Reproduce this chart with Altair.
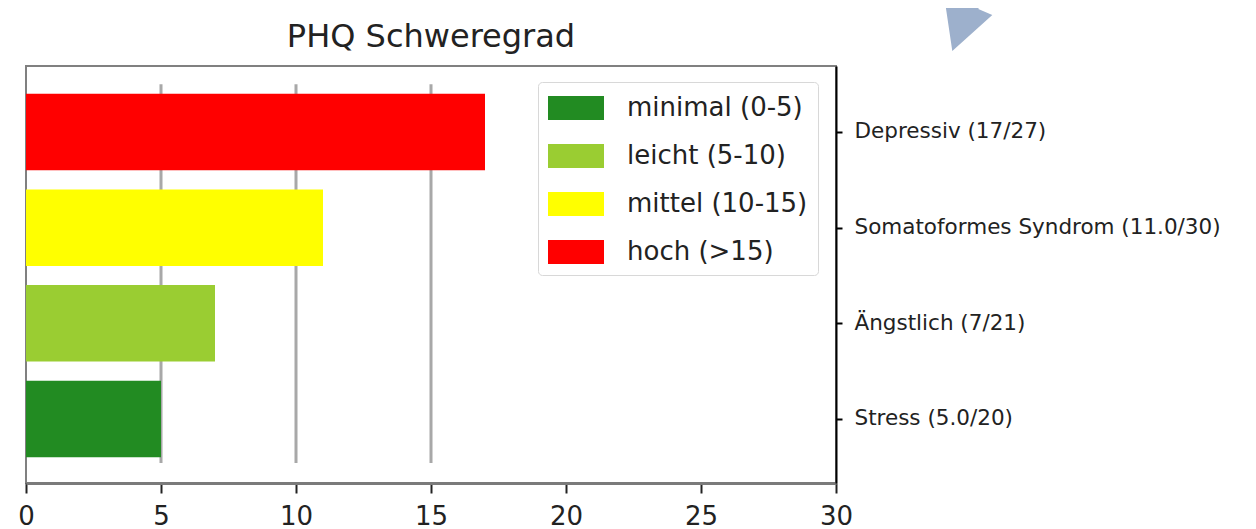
import json
import altair as alt
import pandas as pd

# ---- data ----
categories = ["Stress (5.0/20)", "Ängstlich (7/21)", "Somatoformes Syndrom (11.0/30)", "Depressiv (17/27)"]
positions = [0, 1, 2, 3]
scores = [5, 7, 11, 17]
bar_levels = ["minimal (0-5)", "leicht (5-10)", "mittel (10-15)", "hoch (>15)"]
levels = ["minimal (0-5)", "leicht (5-10)", "mittel (10-15)", "hoch (>15)"]
level_colors = ["#228b22", "#9acd32", "#ffff00", "#ff0000"]
thresholds = [5, 10, 15]
threshold_low = [-0.46, -0.46, -0.46]
threshold_high = [3.5, 3.5, 3.5]
x_ticks = [0, 5, 10, 15, 20, 25, 30]
arrow_x = [34.9]
arrow_y = [4.17]

FONT = "DejaVu Sans"

bars = pd.DataFrame({"pos": positions, "score": scores, "level": bar_levels, "cat": categories})
rules = pd.DataFrame({"x": thresholds, "y0": threshold_low, "y1": threshold_high})
arrow = pd.DataFrame({"x": arrow_x, "y": arrow_y})

xscale = alt.Scale(domain=[0, 30], nice=False, zero=False)
yscale = alt.Scale(domain=[-0.67, 3.69], nice=False, zero=False)

label_expr = json.dumps(categories) + "[datum.value]"

rule_layer = alt.Chart(rules).mark_rule(color="#a8a8a8", strokeWidth=3).encode(
    x=alt.X("x:Q", scale=xscale),
    y=alt.Y("y0:Q", scale=yscale),
    y2="y1:Q",
)

bar_layer = alt.Chart(bars).transform_calculate(
    lo="datum.pos - 0.4", hi="datum.pos + 0.4"
).mark_bar().encode(
    x=alt.X("score:Q", scale=xscale,
            axis=alt.Axis(values=x_ticks, title=None, grid=False, labelFontSize=26,
                          labelFont=FONT, labelColor="#222", tickColor="#222",
                          tickSize=10, tickWidth=2, domainColor="#7a7a7a", domainWidth=3,
                          labelPadding=10, labelFlush=False)),
    x2=alt.value(0),
    y=alt.Y("lo:Q", scale=yscale,
            axis=alt.Axis(orient="right", values=positions, labelExpr=label_expr, title=None,
                          grid=False, labelFontSize=21.5, labelFont=FONT, labelColor="#222",
                          labelLimit=600,
                          tickColor="#000", tickSize=6, tickWidth=2, domainColor="#000",
                          domainWidth=2, labelPadding=12)),
    y2="hi:Q",
    color=alt.Color("level:N",
                    scale=alt.Scale(domain=levels, range=level_colors),
                    legend=alt.Legend(title=None, orient="none", legendX=512, legendY=16,
                                      symbolType="M-1,-0.75H2.5V0.75H-1Z", symbolSize=1024,
                                      symbolStrokeWidth=0, symbolOpacity=1,
                                      labelFontSize=26, labelFont=FONT, labelColor="#222",
                                      labelLimit=400,
                                      labelOffset=47, rowPadding=19, padding=10,
                                      fillColor="white", strokeColor="#d8d8d8",
                                      cornerRadius=4)),
)

arrow_layer = alt.Chart(arrow).mark_point(
    shape="M-1.6,3.1L2.4,-0.5L1.0,-1.1L1.8,-3.0L-0.2,-3.0L-0.8,-1.7L-2.4,-2.3Z",
    size=400, filled=True, color="#9db0cc", opacity=1, clip=False,
).encode(
    x=alt.X("x:Q", scale=xscale),
    y=alt.Y("y:Q", scale=yscale),
)

chart = alt.layer(rule_layer, bar_layer, arrow_layer).properties(
    width=810, height=417,
    title=alt.Title("PHQ Schweregrad", fontSize=32, font=FONT, fontWeight="normal",
                    color="#222", anchor="middle", offset=-89, baseline="alphabetic"),
    autosize=alt.AutoSizeParams(type="none"),
    padding={"left": 18, "top": 58, "right": 412, "bottom": 46},
).configure_view(stroke="#808080", strokeWidth=2)

chart.save("out.html", embed_options={"renderer": "svg", "actions": False})
